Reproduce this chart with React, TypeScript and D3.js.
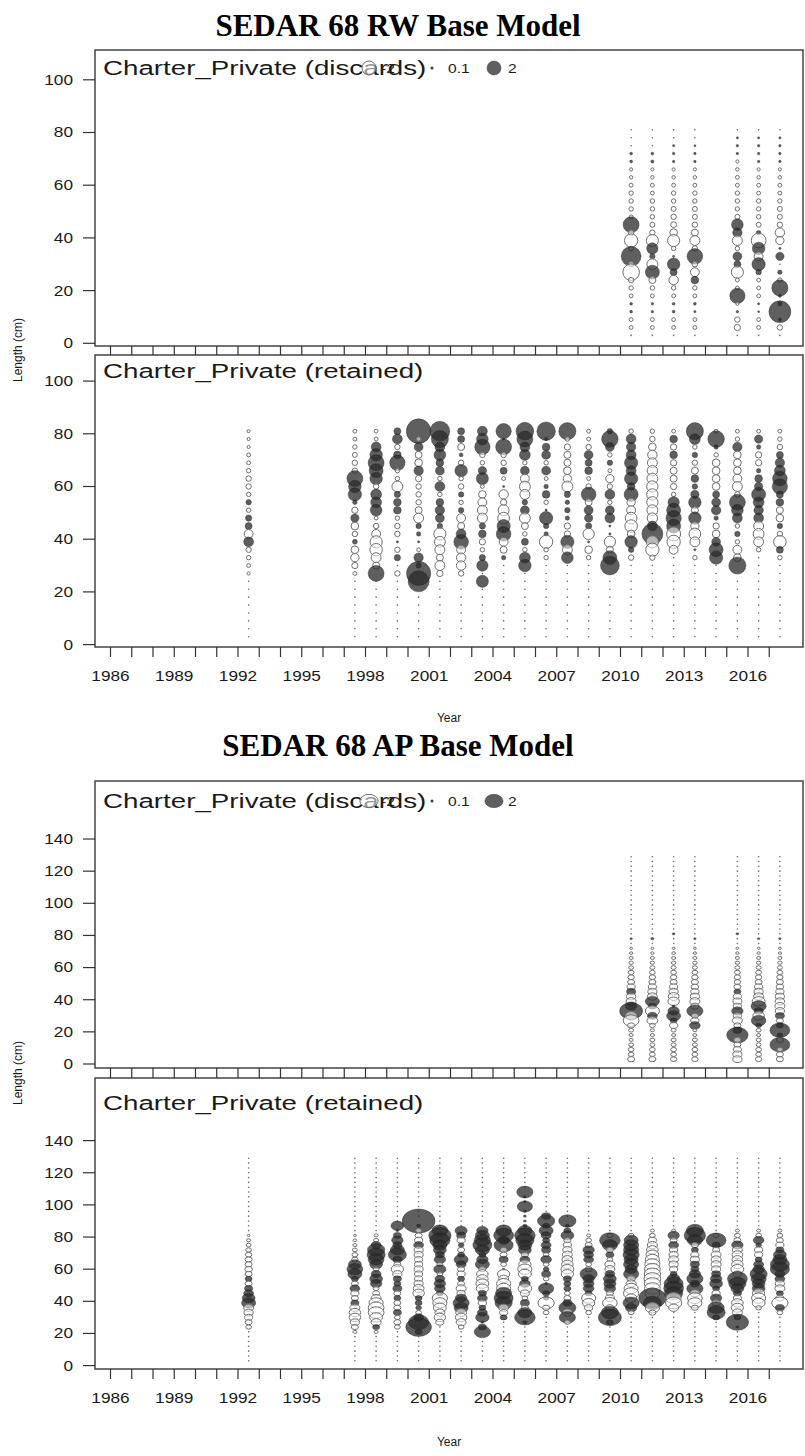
import React from "react";
import * as d3 from "d3";

// ---------------- data ----------------
const tickYears = [1986,1987,1988,1989,1990,1991,1992,1993,1994,1995,1996,1997,1998,1999,2000,2001,2002,2003,2004,2005,2006,2007,2008,2009,2010,2011,2012,2013,2014,2015,2016,2017];
const yearLabels = [1986,1989,1992,1995,1998,2001,2004,2007,2010,2013,2016];
const rwYTicks = [0,20,40,60,80,100];
const apYTicks = [0,20,40,60,80,100,120,140];

// length bins (descending)
const rwBins = [81,78,75,72,69,66,63,60,57,54,51,48,45,42,39,36,33,30,27,24,21,18,15,12,9,6,3];
const apBins = [129,126,123,120,117,114,111,108,105,102,99,96,93,90,87,84,81,78,75,72,69,66,63,60,57,54,51,48,45,42,39,36,33,30,27,24,21,18,15,12,9,6,3];

const discardYears = [2010,2011,2012,2013,2015,2016,2017];
const retainedYears = [1992,1997,1998,1999,2000,2001,2002,2003,2004,2005,2006,2007,2008,2009,2010,2011,2012,2013,2014,2015,2016,2017];

// Pearson residuals, RW model, discards (one row per year, bins 81 -> 3)
const rwDiscards = [
  [0.02,0.02,0.03,0.08,0.08, -0.1,-0.12,-0.15,-0.2,-0.2, -0.2,-0.15,2.6,-0.3,-1.8, -0.2,4.0,-0.3,-2.8,-0.3, -0.2,-0.15,0.08,0.08,-0.15, -0.15,0.02],
  [0.02,0.02,0.02,0.08,0.1, -0.1,-0.12,-0.15,-0.15,-0.2, -0.2,-0.2,-0.25,-0.3,-1.5, 1.3,0.3,-1.2,2.0,-0.5, -0.2,-0.15,0.06,0.06,-0.15, -0.15,0.02],
  [0.02,0.02,0.05,0.06,0.06, -0.1,-0.12,-0.15,-0.2,-0.2, -0.25,-0.3,-0.35,-0.6,-1.5, -0.2,0.05,1.6,0.5,-0.9, -0.2,-0.15,0.08,0.08,-0.15, -0.15,0.02],
  [0.02,0.02,0.04,0.06,0.06, -0.1,-0.12,-0.15,-0.2,-0.2, -0.25,-0.25,-0.3,-0.5,-1.0, -0.3,2.5,-0.3,-0.8,0.6, -0.2,-0.15,0.08,0.05,-0.15, -0.15,0.02],
  [0.02,0.05,0.06,0.06,-0.1, -0.12,-0.15,-0.15,-0.2,-0.2, -0.2,-0.25,1.4,0.9,-1.0, -0.2,0.8,0.5,-1.5,-0.15, -0.15,2.4,-0.1,0.06,-0.3, -0.4,0.02],
  [0.02,0.05,0.06,0.06,0.06, -0.1,-0.12,-0.15,-0.15,-0.2, -0.2,-0.2,-0.25,0.2,-2.2, 1.6,-0.8,1.8,0.3,-0.15, -0.15,-0.15,0.05,0.04,-0.15, -0.15,0.02],
  [0.02,0.05,0.06,0.06,0.06, -0.1,-0.12,-0.15,-0.15,-0.2, -0.25,-0.25,-0.3,-0.9,-0.7, 0.05,0.7,0.03,0.2,-0.2, 2.7,0.1,0.2,4.9,0.1, -0.3,0.02],
];

// RW model, retained
const rwRetained = [
  [-0.1,-0.1,-0.1,-0.15,-0.15, -0.2,-0.3,-0.3,-0.2,0.3, -0.2,0.4,0.5,-0.8,1.0, -0.3,-0.2,-0.15,-0.1,0, 0,0,0,0,0, 0,0],
  [-0.15,-0.15,-0.2,-0.25,-0.3, -0.3,2.6,1.6,1.8,0.2, -0.4,0.7,-0.6,-0.3,0.25, -0.6,-0.7,-0.4,-0.15,0.02, 0,0,0,0,0, 0,0],
  [-0.15,-0.15,1.0,1.6,2.6, 2.0,1.6,-0.3,1.2,1.2, 1.4,-0.15,-0.3,-0.8,-1.5, -1.6,-1.0,-0.5,2.6,0.02, 0,0,0,0,0, 0,0],
  [0.5,1.0,-0.3,0.6,2.4, -0.2,-0.2,-1.2,0.4,0.6, 0.6,-0.2,-0.3,-0.3,0.05, -0.3,0.4,0.02,-0.3,0.02, 0,0,0,0,0, 0,0],
  [6.2,-0.2,0.8,-0.5,-0.6, 0.9,-0.4,-0.3,-0.3,-0.3, -0.5,-1.0,0.3,0.2,0.05, -0.15,0.9,0.3,6.0,4.5, 0,0,0,0,0, 0,0],
  [4.0,3.0,1.0,1.4,0.6, 0.8,-0.2,1.0,-0.2,0.6, 0.9,0.8,0.3,-1.5,-1.2, -1.0,-0.5,-1.0,-0.4,0.02, 0,0,0,0,0, 0,0],
  [0.5,0.5,-0.5,0.15,-0.3, 1.6,-0.2,-0.3,0.3,-0.2, 0.3,-0.8,-0.5,1.0,2.2, -0.8,-0.9,-0.9,-0.3,0.02, 0,0,0,0,0, 0,0],
  [1.0,1.4,2.4,-0.3,-0.2, 0.7,1.5,-0.15,-0.6,-0.8, -1.0,-1.0,0.4,0.6,-0.4, -0.2,0.4,1.3,0.02,1.5, 0,0,0,0,0, 0,0],
  [2.4,0.05,2.6,-0.3,-0.3, 0.5,-0.15,0.05,-0.9,-0.4, -1.2,-1.4,1.8,2.2,-0.8, -0.5,0.2,0.02,0,0, 0,0,0,0,0, 0,0],
  [3.2,2.6,1.0,1.2,-0.2, 0.8,-0.8,-1.2,-1.0,0.3, 0.8,-1.2,-0.5,-0.2,0.5, -0.2,1.2,1.6,0.02,0, 0,0,0,0,0, 0,0],
  [3.5,0.1,0.6,0.8,-0.2, 0.8,-0.15,0.2,0.6,-0.2, 0.05,1.8,0.3,0.2,-1.8, -0.2,-0.2,0.02,0,0, 0,0,0,0,0, 0,0],
  [3.0,-0.2,-0.4,-0.5,-0.5, -0.6,-0.7,-1.2,0.4,0.2, 0.3,0.2,-0.4,-0.4,1.8, -1.0,1.4,0.02,0,0, 0,0,0,0,0, 0,0],
  [-0.15,-0.15,-0.3,0.8,0.5, 0.6,-0.15,-0.3,2.2,-0.5, 0.8,0.7,0.4,-1.3,0.05, -0.6,-0.2,0.02,0,0, 0,0,0,0,0, 0,0],
  [0.3,2.8,0.8,-0.2,0.3, -0.15,-0.7,-0.3,1.0,-0.2, 0.8,1.0,0.05,0.05,-1.3, -0.5,2.0,3.6,0.02,0, 0,0,0,0,0, 0,0],
  [-0.2,1.0,0.9,1.0,1.8, 1.0,1.8,0.6,2.0,-0.7, -0.8,-1.4,-1.6,-0.6,1.6, 0.3,-0.3,0.02,0,0, 0,0,0,0,0, 0,0],
  [-0.2,-0.3,-0.6,-0.9,-1.0, -1.1,-1.2,-1.3,-1.3,-1.3, -1.2,-1.1,1.0,4.5,-1.5, -1.8,-0.3,0.02,0,0, 0,0,0,0,0, 0,0],
  [-0.15,0.6,-0.4,0.6,-0.4, -0.5,-0.5,-0.4,-0.2,1.3, 2.0,2.4,2.0,-2.0,-1.8, -0.8,0.02,0.02,0,0, 0,0,0,0,0, 0,0],
  [3.0,1.2,-0.2,0.3,-0.3, -0.5,0.6,0.3,0.7,1.6, -0.5,1.6,-0.7,-1.4,-1.0, 0.05,-0.2,0.02,0,0, 0,0,0,0,0, 0,0],
  [-0.15,2.8,0.2,-0.2,-0.6, -0.6,-0.6,-0.6,0.5,0.8, 0.9,0.2,-0.4,-0.6,0.8, 2.0,1.8,0.02,0,0, 0,0,0,0,0, 0,0],
  [-0.15,-0.2,0.9,-0.6,-0.6, -0.6,-0.8,-1.0,-0.3,2.6, 1.4,1.0,-0.2,0.3,-0.2, -0.8,-0.6,3.0,0.02,0, 0,0,0,0,0, 0,0],
  [-0.15,0.7,0.2,-0.4,-0.4, 0.2,0.6,0.7,2.0,1.2, 0.9,1.0,-1.0,-1.2,-1.0, -0.2,0.02,0.02,0,0, 0,0,0,0,0, 0,0],
  [-0.15,-0.2,-0.3,0.5,0.9, 1.2,2.2,2.4,0.5,0.6, -0.5,-0.6,0.3,-0.3,-1.6, 0.5,-0.2,0.02,0,0, 0,0,0,0,0, 0,0],
];

// AP model, discards (bins 129 -> 3)
const apDiscards = [
  [0,0,0,0,0,0,0,0,0,0,0,0,0,0, 0.01,0.02,0.03,0.04,-0.03,-0.05,-0.07,-0.1,-0.12,-0.15,-0.2,-0.25,-0.3,-0.4, 0.5,-0.5,-0.6,0.8,3.2,-0.8,-1.5,-0.3,-0.15,-0.1,-0.1,-0.15,-0.2,-0.2, -0.3],
  [0,0,0,0,0,0,0,0,0,0,0,0,0,0, 0.01,0.02,0.03,0.06,-0.03,-0.05,-0.07,-0.1,-0.12,-0.15,-0.2,-0.25,-0.3,-0.4, -0.5,-0.6,1.2,0.4,-1.2,0.6,-0.7,-0.2,-0.1,-0.1,-0.15,-0.15,-0.2,-0.2, -0.3],
  [0,0,0,0,0,0,0,0,0,0,0,0,0,0, 0.01,0.02,0.05,0.03,-0.03,-0.05,-0.08,-0.1,-0.13,-0.16,-0.2,-0.25,-0.3,-0.4, -0.5,-0.7,-0.8,0.05,0.8,1.2,0.3,-0.4,-0.15,-0.1,-0.15,-0.15,-0.2,-0.2, -0.25],
  [0,0,0,0,0,0,0,0,0,0,0,0,0,0, 0.01,0.02,0.03,0.04,-0.03,-0.05,-0.07,-0.1,-0.12,-0.15,-0.2,-0.25,-0.3,-0.35, -0.4,-0.5,-0.6,-0.4,1.6,-0.3,-0.4,0.7,-0.1,-0.1,-0.15,-0.15,-0.2,-0.2, -0.25],
  [0,0,0,0,0,0,0,0,0,0,0,0,0,0, 0.01,0.02,0.05,0.03,-0.03,-0.05,-0.07,-0.1,-0.12,-0.15,-0.2,-0.25,-0.25,-0.3, 0.3,-0.4,-0.5,-0.4,0.8,-0.4,-0.6,-0.3,0.5,2.8,-0.3,-0.3,-0.4,-0.5, -0.5],
  [0,0,0,0,0,0,0,0,0,0,0,0,0,0, 0.01,0.02,0.03,0.04,-0.03,-0.05,-0.07,-0.1,-0.12,-0.15,-0.2,-0.25,-0.3,-0.4, -0.5,-0.6,-1.0,1.4,0.5,-0.8,1.3,0.2,-0.15,-0.1,-0.15,-0.15,-0.2,-0.2, -0.25],
  [0,0,0,0,0,0,0,0,0,0,0,0,0,0, 0.01,0.02,0.03,0.04,-0.03,-0.05,-0.07,-0.1,-0.12,-0.15,-0.2,-0.25,-0.3,-0.35, -0.4,-0.5,-0.55,-0.6,-0.5,0.5,-0.3,0.3,2.4,0.2,-0.3,2.4,-0.2,-0.3, -0.3],
];

// AP model, retained
const apRetained = [
  [0,0,0,0,0,0,0,0,0,0,0,0,0,0, 0,0,-0.05,-0.1,-0.15,-0.2,-0.25,-0.3,-0.3,-0.35,-0.3,0.3,-0.3,0.4, 0.6,1.0,1.2,-0.6,-0.5,-0.4,-0.3,-0.2,0,0,0,0,0,0, 0],
  [0,0,0,0,0,0,0,0,0,0,0,0,0,0, 0,0,-0.05,-0.08,-0.1,-0.15,-0.2,-0.25,1.0,1.5,1.2,0.3,-0.3,0.6, -0.4,-0.3,0.4,-0.6,-0.8,-0.8,-0.5,-0.3,-0.1,0,0,0,0,0, 0],
  [0,0,0,0,0,0,0,0,0,0,0,0,0,0, 0,0,-0.1,-0.15,0.6,1.8,2.0,1.5,1.0,-0.2,0.6,1.0,0.8,-0.2, -0.3,-0.6,-1.2,-1.5,-1.5,-1.0,-0.6,0.3,-0.1,0,0,0,0,0, 0],
  [0,0,0,0,0,0,0,0,0,0,0,0,0,0, 1.0,0.05,0.4,0.8,0.5,1.2,2.0,0.5,-0.3,-0.9,-0.5,0.4,0.3,0.5, -0.3,0.3,-0.3,-0.3,0.4,-0.2,-0.3,-0.2,0,0,0,0,0,0, 0],
  [0,0,0,0,0,0,0,0,0,0,0,0,0,6.5, 0.1,-0.2,-0.3,-0.4,0.6,-0.5,-0.5,-0.4,-0.4,-0.5,-0.4,-0.4,-0.5,-0.7, -0.8,0.3,0.3,0.2,-0.2,0.6,2.5,4.0,0.3,0,0,0,0,0, 0],
  [0,0,0,0,0,0,0,0,0,0,0,0,0,0, 0,1.5,3.0,2.5,1.2,1.0,0.5,0.8,-0.2,0.9,-0.2,0.6,0.8,0.7, 0.3,-1.4,-1.2,-1.0,-0.6,-0.8,-0.4,0,0,0,0,0,0,0, 0],
  [0,0,0,0,0,0,0,0,0,0,0,0,0,0, 0,0.9,0.5,-0.4,0.2,-0.3,0.3,1.2,0.6,-0.3,-0.4,0.3,-0.3,-0.6, -0.4,0.8,1.6,1.2,-0.7,-0.8,-0.6,-0.2,0,0,0,0,0,0, 0],
  [0,0,0,0,0,0,0,0,0,0,0,0,0,0, 0,0.8,1.2,1.6,2.2,1.2,0.3,0.8,1.2,-0.3,-0.8,-0.8,-1.0,-0.9, 0.4,0.6,-0.4,0.3,0.6,1.1,0.05,0.4,1.6,0,0,0,0,0, 0],
  [0,0,0,0,0,0,0,0,0,0,0,0,0,0, 0,1.5,2.4,0.8,2.2,-0.3,-0.3,0.5,-0.2,0.05,-0.9,-0.6,-1.2,-1.2, 1.6,2.2,1.8,-0.6,-0.4,0.3,0,0,0,0,0,0,0,0, 0],
  [0,0,0,0,0,0,0,1.6,0.05,0.05,1.4,0.05,0.05,0.05, 0.1,1.2,2.6,2.0,1.2,1.0,-0.3,0.6,-0.9,-1.2,-1.0,0.3,0.7,-1.1, -0.5,-0.2,0.5,-0.3,1.2,2.6,0.1,0,0,0,0,0,0,0, 0],
  [0,0,0,0,0,0,0,0,0,0,0,0,0.5,1.8, 0.3,1.2,0.6,0.3,0.6,0.5,-0.2,0.7,-0.2,0.2,0.5,-0.2,0.05,1.4, 0.3,0.2,-1.6,-0.3,-0.2,0,0,0,0,0,0,0,0,0, 0],
  [0,0,0,0,0,0,0,0,0,0,0,0,0,1.8, 0.1,0.3,1.0,-0.3,-0.4,-0.5,-0.6,-0.7,-0.8,-1.0,-0.9,0.4,0.3,0.3, -0.2,-0.3,0.5,1.8,-0.6,1.6,-0.2,0,0,0,0,0,0,0, 0],
  [0,0,0,0,0,0,0,0,0,0,0,0,0,0, 0,0,-0.1,-0.2,-0.3,0.8,0.6,0.6,-0.2,-0.3,1.8,0.8,0.7,0.7, 0.3,-1.2,-0.9,-0.4,-0.2,0,0,0,0,0,0,0,0,0, 0],
  [0,0,0,0,0,0,0,0,0,0,0,0,0,0, 0,0,-0.2,2.6,1.4,-0.3,0.4,-0.2,-0.6,-0.6,0.6,1.0,0.9,0.8, -0.3,-0.5,-1.3,-0.4,1.8,3.2,0.3,0,0,0,0,0,0,0, 0],
  [0,0,0,0,0,0,0,0,0,0,0,0,0,0, 0,0,-0.2,1.2,1.4,1.4,1.6,1.2,1.4,0.9,1.4,-0.4,-0.6,-1.2, -1.4,-0.8,1.6,0.8,-0.2,0,0,0,0,0,0,0,0,0, 0],
  [0,0,0,0,0,0,0,0,0,0,0,0,0,0, 0,-0.1,-0.2,-0.4,-0.6,-0.8,-1.0,-1.2,-1.4,-1.5,-1.6,-1.7,-1.6,-1.5, -1.3,4.5,2.0,-1.2,-0.3,0,0,0,0,0,0,0,0,0, 0],
  [0,0,0,0,0,0,0,0,0,0,0,0,0,0, 0,-0.1,0.8,-0.3,0.6,-0.4,-0.5,-0.6,-0.5,-0.4,0.3,1.0,2.2,2.4, 2.0,-1.4,-1.6,-0.6,0,0,0,0,0,0,0,0,0,0, 0],
  [0,0,0,0,0,0,0,0,0,0,0,0,0,0, 0,1.8,2.8,1.4,-0.3,0.3,-0.4,-0.5,0.5,0.4,0.8,1.6,0.5,1.6, -0.6,-1.3,-1.2,-0.3,0,0,0,0,0,0,0,0,0,0, 0],
  [0,0,0,0,0,0,0,0,0,0,0,0,0,0, 0,0,-0.2,2.4,0.4,-0.3,-0.6,-0.6,-0.6,-0.5,0.5,0.8,1.0,0.3, -0.4,0.8,-0.4,1.6,2.0,0.3,0,0,0,0,0,0,0,0, 0],
  [0,0,0,0,0,0,0,0,0,0,0,0,0,0, 0,-0.1,-0.2,-0.3,0.8,-0.6,-0.7,-0.7,-0.8,-1.0,-0.4,2.4,1.8,1.0, 0.4,-0.4,-0.8,-0.9,-0.6,0.3,3.0,0.05,0,0,0,0,0,0, 0],
  [0,0,0,0,0,0,0,0,0,0,0,0,0,0, 0,-0.1,-0.2,0.7,0.2,-0.4,-0.4,0.3,0.6,0.8,1.8,1.4,1.0,1.0, -0.9,-1.2,-1.0,-0.2,0,0,0,0,0,0,0,0,0,0, 0],
  [0,0,0,0,0,0,0,0,0,0,0,0,0,0, 0,-0.1,-0.2,-0.3,-0.4,0.4,1.0,1.2,2.2,2.2,0.6,0.6,-0.5,-0.6, 0.3,-0.4,-1.6,0.5,-0.2,0,0,0,0,0,0,0,0,0, 0],
];

const legendValues = [-2, 0.1, 2];

// ---------------- drawing ----------------
const FONT = "'Liberation Sans', Arial, Helvetica, sans-serif";
const SERIF = "'Liberation Serif', 'Times New Roman', serif";
const BOX_L = 95;
const BOX_R = 803;

const x = d3.scaleLinear().domain([1986, 2017]).range([110.5, 769.25]);
const rScale = d3.scaleSqrt().domain([0, 2]).range([0, 7]);

function ST(props: any) {
  const { x: tx, y: ty, size, sx = 1, anchor = "start", children, weight, family = FONT, fill = "#1a1a1a", baseline } = props;
  return (
    <text
      transform={`translate(${tx},${ty}) scale(${sx},1)`}
      fontSize={size}
      fontFamily={family}
      fontWeight={weight}
      textAnchor={anchor}
      dominantBaseline={baseline}
      fill={fill}
    >
      {children}
    </text>
  );
}

function Bubble({ cx, cy, v, ex, ey }: any) {
  const a = Math.abs(v);
  if (a < 0.04) {
    return <circle cx={cx} cy={cy} r={0.8} fill="#6a6a6a" />;
  }
  const r = rScale(a);
  if (v > 0) {
    return (
      <ellipse cx={cx} cy={cy} rx={r * ex} ry={r * ey} fill="#2a2a2a" fillOpacity={0.75} stroke="#1a1a1a" strokeOpacity={0.55} strokeWidth={0.7} />
    );
  }
  return (
    <ellipse cx={cx} cy={cy} rx={r * ex} ry={r * ey} fill="#ffffff" fillOpacity={0.55} stroke="#6e6e6e" strokeWidth={1} />
  );
}

function Panel(props: any) {
  const { top, bottom, y0, k, ticks, bins, years, res, ex, ey, label, labelY, textSx, legendY } = props;
  const y = d3.scaleLinear().domain([0, 100]).range([y0, y0 - 100 * k]);
  return (
    <g>
      <rect x={BOX_L} y={top} width={BOX_R - BOX_L} height={bottom - top} fill="none" stroke="#444" strokeWidth={1.5} />
      {ticks.map((t: number) => (
        <g key={t}>
          <line x1={83} x2={BOX_L} y1={y(t)} y2={y(t)} stroke="#333" strokeWidth={1.2} />
          <ST x={73} y={y(t)} size={14} sx={1.23} anchor="end" baseline="central">{t}</ST>
        </g>
      ))}
      <ST x={103} y={labelY} size={21} sx={textSx}>{label}</ST>
      {years.map((yr: number, j: number) => (
        <g key={yr}>
          {bins.map((b: number, i: number) => (
            <Bubble key={b} cx={x(yr + 0.5)} cy={y(b)} v={res[j][i]} ex={ex} ey={ey} />
          ))}
        </g>
      ))}
      {legendY !== undefined && (
        <g>
          <Bubble cx={369} cy={legendY} v={legendValues[0]} ex={ex} ey={ey} />
          <ST x={381} y={legendY} size={13} sx={1.2} baseline="central">{legendValues[0]}</ST>
          <circle cx={432} cy={legendY} r={rScale(legendValues[1])} fill="#444" />
          <ST x={448} y={legendY} size={13} sx={1.2} baseline="central">{legendValues[1]}</ST>
          <Bubble cx={494} cy={legendY} v={legendValues[2]} ex={ex} ey={ey} />
          <ST x={508} y={legendY} size={13} sx={1.2} baseline="central">{legendValues[2]}</ST>
        </g>
      )}
    </g>
  );
}

function Chart(props: any) {
  const { title, titleY, p1, p2, between, xLabelY, yearY, ticks, bins, discards, retained, ex, ey } = props;
  return (
    <g>
      <ST x={398} y={titleY} size={31} weight="bold" family={SERIF} anchor="middle" fill="#000">{title}</ST>
      <Panel {...p1} ticks={ticks} bins={bins} years={discardYears} res={discards} ex={ex} ey={ey}
        label="Charter_Private (discards)" textSx={1.32} />
      <Panel {...p2} ticks={ticks} bins={bins} years={retainedYears} res={retained} ex={ex} ey={ey}
        label="Charter_Private (retained)" textSx={1.32} />
      {tickYears.map((yr) => (
        <g key={yr}>
          <line x1={x(yr)} x2={x(yr)} y1={p1.bottom} y2={p2.top} stroke="#333" strokeWidth={1.2} />
          <line x1={x(yr)} x2={x(yr)} y1={p2.bottom} y2={p2.bottom + 10} stroke="#333" strokeWidth={1.2} />
        </g>
      ))}
      {yearLabels.map((yr) => (
        <ST key={yr} x={x(yr)} y={xLabelY} size={14} sx={1.23} anchor="middle">{yr}</ST>
      ))}
      <ST x={449} y={yearY} size={12} anchor="middle">Year</ST>
      <text transform={`translate(22,${between}) rotate(-90)`} fontSize={12} fontFamily={FONT} textAnchor="middle" fill="#1a1a1a">
        Length (cm)
      </text>
    </g>
  );
}

export default function App() {
  return (
    <svg width={805} height={1456} style={{ position: "absolute", left: 0, top: 0, background: "#fff" }}>
      <rect x={0} y={0} width={805} height={1456} fill="#fff" />
      <Chart
        title="SEDAR 68 RW Base Model"
        titleY={36}
        p1={{ top: 50, bottom: 346, y0: 343.3, k: 2.635, labelY: 75, legendY: 68 }}
        p2={{ top: 355, bottom: 647, y0: 644.6, k: 2.635, labelY: 378 }}
        between={350}
        xLabelY={681}
        yearY={722}
        ticks={rwYTicks}
        bins={rwBins}
        discards={rwDiscards}
        retained={rwRetained}
        ex={1}
        ey={1}
      />
      <Chart
        title="SEDAR 68 AP Base Model"
        titleY={756}
        p1={{ top: 781, bottom: 1068, y0: 1064, k: 1.607, labelY: 808, legendY: 801 }}
        p2={{ top: 1078, bottom: 1369, y0: 1365.6, k: 1.607, labelY: 1110 }}
        between={1073}
        xLabelY={1403}
        yearY={1446}
        ticks={apYTicks}
        bins={apBins}
        discards={apDiscards}
        retained={apRetained}
        ex={1.3}
        ey={0.95}
      />
    </svg>
  );
}
